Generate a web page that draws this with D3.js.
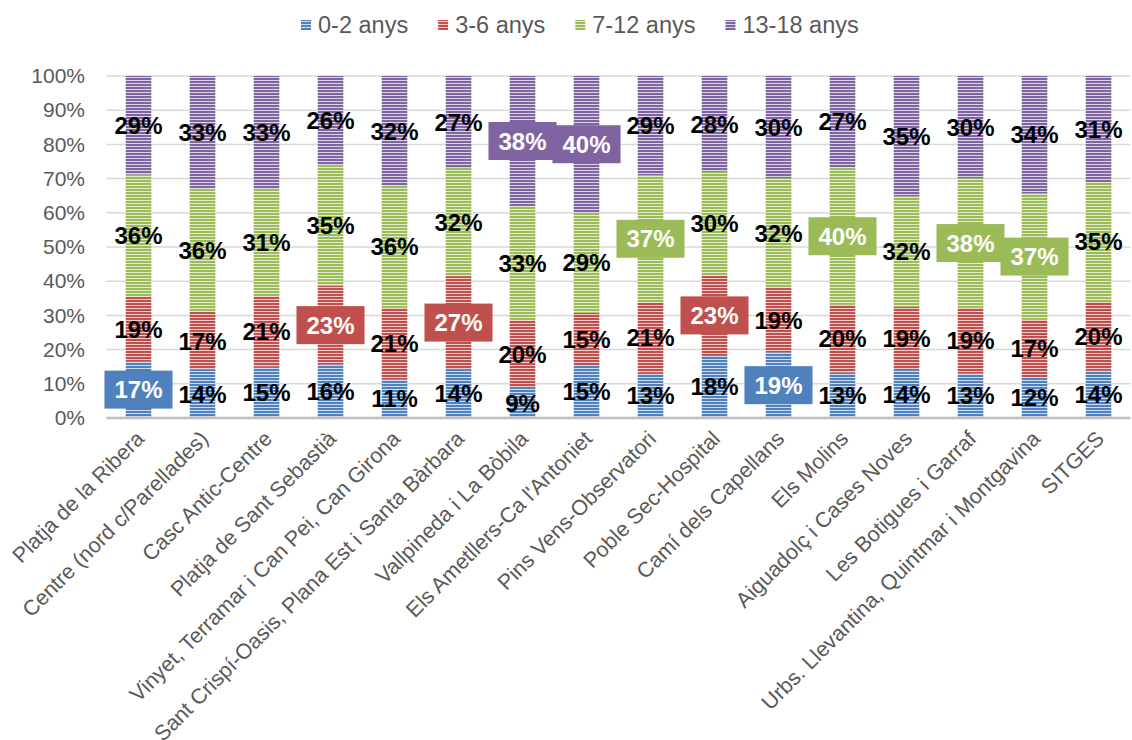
<!DOCTYPE html>
<html>
<head>
<meta charset="utf-8">
<script src="https://cdn.jsdelivr.net/npm/d3@7"></script>
<style>
  html, body { margin: 0; padding: 0; background: #ffffff; }
  svg { display: block; font-family: "Liberation Sans", Arial, sans-serif; }
</style>
</head>
<body>
<svg id="chart" width="1132" height="740"></svg>
<script>
// ---------- data ----------
const categories = [
  "Platja de la Ribera",
  "Centre (nord c/Parellades)",
  "Casc Antic-Centre",
  "Platja de Sant Sebastià",
  "Vinyet, Terramar i Can Pei, Can Girona",
  "Sant Crispí-Oasis, Plana Est i Santa Bàrbara",
  "Vallpineda i La Bòbila",
  "Els Ametllers-Ca l'Antoniet",
  "Pins Vens-Observatori",
  "Poble Sec-Hospital",
  "Camí dels Capellans",
  "Els Molins",
  "Aiguadolç i Cases Noves",
  "Les Botigues i Garraf",
  "Urbs. Llevantina, Quintmar i Montgavina",
  "SITGES"
];
const seriesNames = ["0-2 anys", "3-6 anys", "7-12 anys", "13-18 anys"];
const age0to2   = [16.6, 14.1, 15.0, 15.6, 11.2, 14.3,  8.8, 15.4, 13.2, 18.4, 19.2, 13.3, 14.0, 13.0, 11.8, 13.8];
const age3to6   = [18.8, 16.9, 20.6, 23.1, 21.0, 27.2, 19.8, 15.4, 20.6, 23.2, 18.8, 19.8, 18.6, 19.2, 16.9, 20.3];
const age7to12  = [35.8, 36.1, 31.4, 35.2, 35.7, 31.6, 33.4, 29.3, 37.2, 30.4, 32.1, 40.1, 32.2, 37.9, 37.0, 34.9];
const age13to18 = [28.8, 32.9, 33.0, 26.1, 32.1, 26.9, 38.0, 39.9, 29.0, 28.0, 29.9, 26.8, 35.2, 29.9, 34.3, 31.0];
const yTicks = [0, 10, 20, 30, 40, 50, 60, 70, 80, 90, 100];
// labels shown as callout boxes: [category, series]
const boxedLabels = [
  ["Platja de la Ribera", "0-2 anys"],
  ["Platja de Sant Sebastià", "3-6 anys"],
  ["Sant Crispí-Oasis, Plana Est i Santa Bàrbara", "3-6 anys"],
  ["Vallpineda i La Bòbila", "13-18 anys"],
  ["Els Ametllers-Ca l'Antoniet", "13-18 anys"],
  ["Pins Vens-Observatori", "7-12 anys"],
  ["Poble Sec-Hospital", "3-6 anys"],
  ["Camí dels Capellans", "0-2 anys"],
  ["Els Molins", "7-12 anys"],
  ["Les Botigues i Garraf", "7-12 anys"],
  ["Urbs. Llevantina, Quintmar i Montgavina", "7-12 anys"]
];

// ---------- build table ----------
const seriesValues = [age0to2, age3to6, age7to12, age13to18];
const table = categories.map((c, i) => {
  const row = { category: c };
  seriesNames.forEach((s, j) => row[s] = seriesValues[j][i]);
  return row;
});
const colors = ["#4f81bd", "#c0504d", "#9bbb59", "#8064a2"];
const color = d3.scaleOrdinal().domain(seriesNames).range(colors);

const svg = d3.select("#chart");
const defs = svg.append("defs");
seriesNames.forEach((s, j) => {
  const c = colors[j];
  const p = defs.append("pattern")
    .attr("id", "pat" + j)
    .attr("patternUnits", "userSpaceOnUse")
    .attr("width", 6).attr("height", 3);
  p.append("rect").attr("width", 6).attr("height", 3)
    .attr("fill", d3.interpolateRgb(c, "#ffffff")(0.72));
  p.append("rect").attr("width", 6).attr("height", 2)
    .attr("fill", c);
});

// ---------- scales ----------
const x = d3.scaleBand()
  .domain(categories)
  .range([106.5, 1130.5])
  .paddingInner(0.6)
  .paddingOuter(0.3);
const y = d3.scaleLinear().domain([0, 100]).range([418, 76]);

// ---------- grid ----------
svg.append("g").selectAll("line")
  .data(yTicks.filter(t => t > 0))
  .join("line")
  .attr("x1", 106.5).attr("x2", 1130.5)
  .attr("y1", d => y(d)).attr("y2", d => y(d))
  .attr("stroke", "#d9d9d9").attr("stroke-width", 1.5);

// y axis labels
const yAxis = d3.axisLeft(y).tickValues(yTicks).tickFormat(d => d + "%").tickSize(0).tickPadding(0);
const gy = svg.append("g").attr("transform", "translate(85,0)").call(yAxis);
gy.select(".domain").remove();
gy.selectAll("text")
  .attr("fill", "#595959")
  .style("font-size", "21px")
  .style("font-family", "'Liberation Sans', Arial, sans-serif");

// ---------- bars ----------
const stacked = d3.stack().keys(seriesNames)(table);
const layers = svg.append("g").selectAll("g")
  .data(stacked)
  .join("g")
  .attr("fill", (d, j) => "url(#pat" + j + ")");
layers.selectAll("rect")
  .data(d => d)
  .join("rect")
  .attr("x", d => x(d.data.category))
  .attr("width", x.bandwidth())
  .attr("y", d => y(d[1]))
  .attr("height", d => y(d[0]) - y(d[1]));

// baseline
svg.append("line")
  .attr("x1", 106.5).attr("x2", 1130.5)
  .attr("y1", y(0)).attr("y2", y(0))
  .attr("stroke", "#bfbfbf").attr("stroke-width", 2.5);

// x axis labels
const xAxis = d3.axisBottom(x).tickSize(0).tickPadding(0);
const gx = svg.append("g").attr("transform", "translate(0," + y(0) + ")").call(xAxis);
gx.select(".domain").remove();
gx.selectAll(".tick text")
  .attr("fill", "#595959")
  .attr("text-anchor", "end")
  .attr("dy", null)
  .attr("y", null)
  .attr("transform", "translate(7,22) rotate(-45)")
  .style("font-size", "21.5px")
  .style("font-family", "'Liberation Sans', Arial, sans-serif");

// ---------- data labels ----------
const isBoxed = (c, s) => boxedLabels.some(b => b[0] === c && b[1] === s);
const labelG = svg.append("g");
stacked.forEach((layer, j) => {
  const s = layer.key;
  layer.forEach(d => {
    const c = d.data.category;
    const cx = x(c) + x.bandwidth() / 2;
    const cy = (y(d[0]) + y(d[1])) / 2;
    const txt = Math.round(d[1] - d[0]) + "%";
    const g = labelG.append("g").attr("transform", `translate(${cx},${cy})`);
    if (isBoxed(c, s)) {
      const rect = g.append("rect").attr("fill", color(s));
      const t = g.append("text")
        .attr("text-anchor", "middle")
        .attr("dy", "0.36em")
        .attr("fill", "#ffffff")
        .style("font-size", "24px")
        .style("font-weight", "bold")
        .text(txt);
      const w = t.node().getComputedTextLength() + 20;
      rect.attr("x", -w / 2).attr("y", -19).attr("width", w).attr("height", 38);
    } else {
      g.append("text")
        .attr("text-anchor", "middle")
        .attr("dy", "0.36em")
        .attr("fill", "#000000")
        .style("font-size", "24px")
        .style("font-weight", "bold")
        .text(txt);
    }
  });
});

// ---------- legend ----------
const legend = svg.append("g").attr("transform", "translate(301,25)");
let lx = 0;
seriesNames.forEach((s, j) => {
  const item = legend.append("g").attr("transform", `translate(${lx},0)`);
  item.append("rect")
    .attr("x", 0).attr("y", -5).attr("width", 10).attr("height", 10)
    .attr("fill", "url(#pat" + j + ")");
  const t = item.append("text")
    .attr("x", 17).attr("dy", "0.36em")
    .attr("fill", "#595959")
    .style("font-size", "23.5px")
    .text(s);
  lx += 17 + t.node().getComputedTextLength() + 30;
});
</script>
</body>
</html>
